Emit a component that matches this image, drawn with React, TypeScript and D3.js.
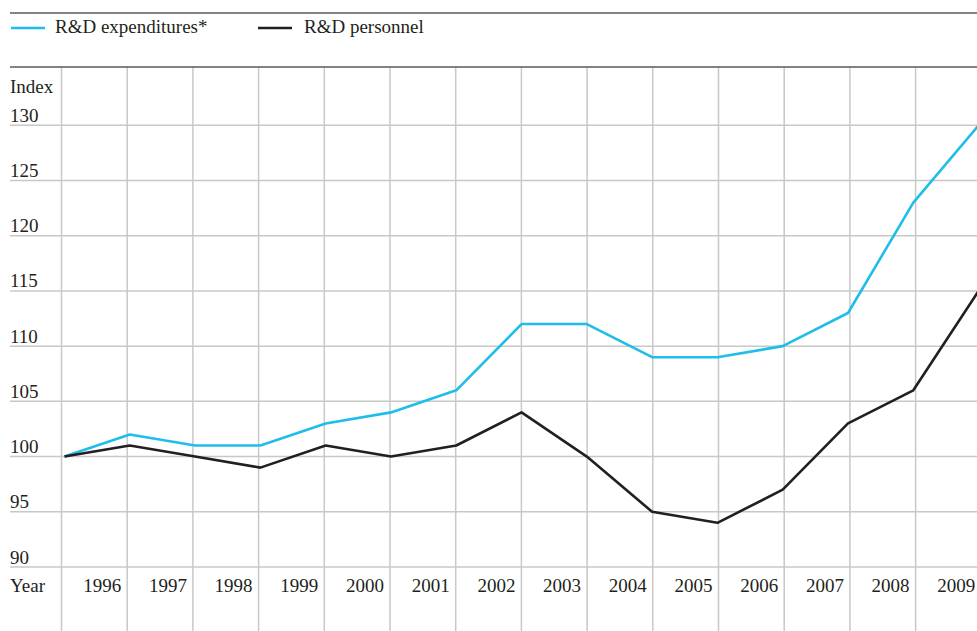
import React from "react";
import * as d3 from "d3";

const years = [1995, 1996, 1997, 1998, 1999, 2000, 2001, 2002, 2003, 2004, 2005, 2006, 2007, 2008, 2009];
const expenditures = [100, 102, 101, 101, 103, 104, 106, 112, 112, 109, 109, 110, 113, 123, 130];
const personnel = [100, 101, 100, 99, 101, 100, 101, 104, 100, 95, 94, 97, 103, 106, 115];
const yTicks = [90, 95, 100, 105, 110, 115, 120, 125, 130];
const yearLabels = [1996, 1997, 1998, 1999, 2000, 2001, 2002, 2003, 2004, 2005, 2006, 2007, 2008, 2009];
const seriesNames = ["R&D expenditures*", "R&D personnel"];

const W = 977;
const H = 631;
const CYAN = "#1fbdea";
const BLACK = "#231f20";
const GRID = "#c8c8c8";
const FRAME = "#5a5a5a";
const FONT = "'Liberation Serif', 'Times New Roman', serif";

export default function App() {
  // grid / label positions
  const xg = d3.scaleLinear().domain([1995, 2009]).range([61.5, 61.5 + 14 * 65.7]);
  // data point positions
  const x = d3.scaleLinear().domain([1995, 2009]).range([64.5, 978.6]);
  const y = d3.scaleLinear().domain([90, 130]).range([567, 125.3]);
  const line = d3
    .line<number>()
    .x((_, i) => x(years[i]))
    .y((d) => y(d));

  const gridYears = years.filter((yr) => xg(yr) < W);

  return (
    <svg
      width={W}
      height={H}
      style={{ position: "absolute", left: 0, top: 0, background: "#fff" }}
      fontFamily={FONT}
    >
      <defs>
        <clipPath id="clip">
          <rect x={0} y={0} width={W} height={H} />
        </clipPath>
      </defs>
      {/* top frame */}
      <line x1={10} x2={W} y1={13} y2={13} stroke={FRAME} strokeWidth={1.3} />
      {/* legend */}
      <line x1={11} x2={45} y1={28} y2={28} stroke={CYAN} strokeWidth={2.5} />
      <text x={55} y={33} fontSize={19} fill="#231f20">{seriesNames[0]}</text>
      <line x1={258} x2={292} y1={28} y2={28} stroke={BLACK} strokeWidth={2.5} />
      <text x={304} y={33} fontSize={19} fill="#231f20">{seriesNames[1]}</text>

      {/* horizontal grid */}
      {yTicks.map((t) => (
        <line key={"h" + t} x1={10} x2={W} y1={y(t)} y2={y(t)} stroke={GRID} strokeWidth={1.5} />
      ))}
      {/* vertical grid */}
      {gridYears.map((yr) => (
        <line key={"v" + yr} x1={xg(yr)} x2={xg(yr)} y1={67} y2={H} stroke={GRID} strokeWidth={1.5} />
      ))}
      <line x1={10} x2={W} y1={67} y2={67} stroke={FRAME} strokeWidth={1.3} />

      {/* y labels */}
      <text x={10} y={93} fontSize={19} fill="#231f20">Index</text>
      {yTicks.map((t) => (
        <text key={"t" + t} x={10} y={y(t) - 3.5} fontSize={19} fill="#231f20">{t}</text>
      ))}
      {/* x labels */}
      <text x={10} y={592} fontSize={19} fill="#231f20">Year</text>
      {yearLabels.map((yr) => (
        <text key={"x" + yr} x={xg(yr) - 6} y={592} fontSize={19} textAnchor="end" fill="#231f20">{yr}</text>
      ))}

      {/* series */}
      <g clipPath="url(#clip)">
        <path d={line(expenditures) || ""} fill="none" stroke={CYAN} strokeWidth={2.6} strokeLinejoin="round" />
        <path d={line(personnel) || ""} fill="none" stroke={BLACK} strokeWidth={2.6} strokeLinejoin="round" />
      </g>
    </svg>
  );
}
